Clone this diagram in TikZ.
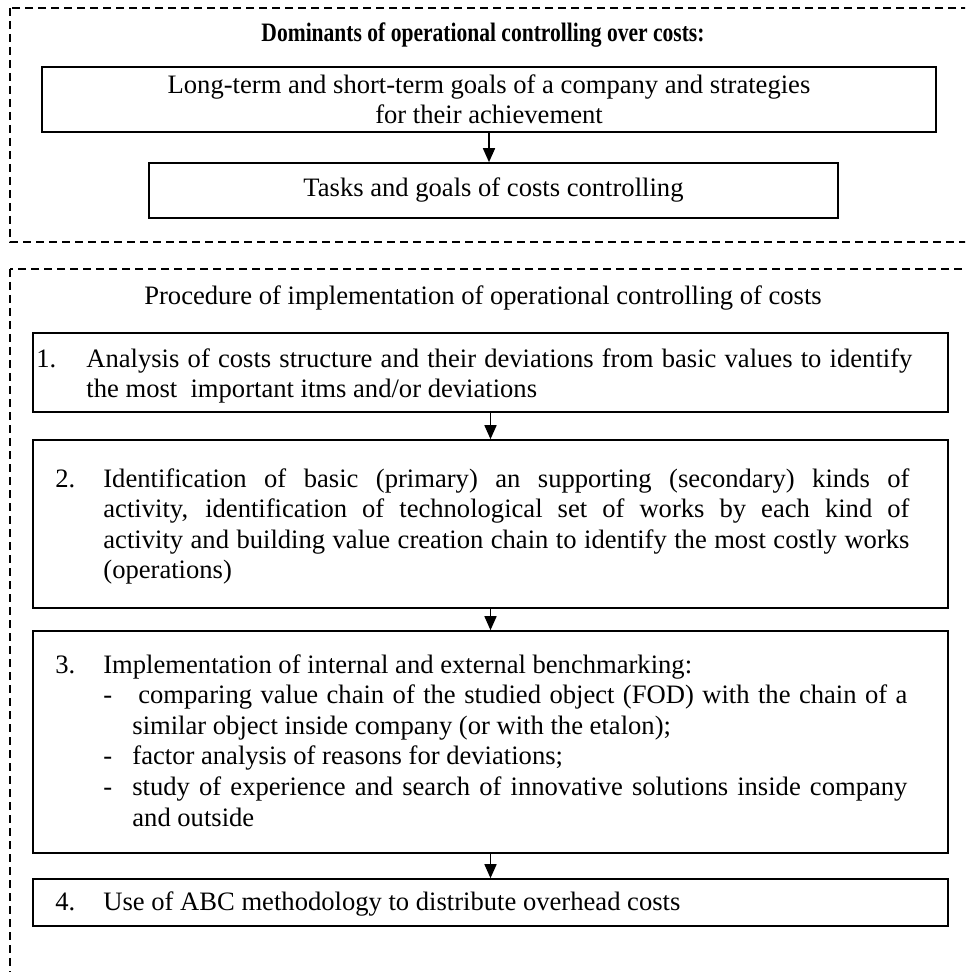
\documentclass[tikz,border=0pt]{standalone}
\usepackage{fontspec}
\setmainfont{Liberation Serif}
\usetikzlibrary{arrows.meta}
\tikzset{
  box/.style={draw, rectangle, line width=0.8pt, inner sep=0pt},
  txt/.style={inner sep=0pt, anchor=base west, align=justify},
  ctxt/.style={inner sep=0pt, anchor=base, align=center},
  arr/.style={-{Triangle[length=7pt,width=6pt]}, line width=0.8pt},
  frame/.style={dash pattern=on 4pt off 2.5pt, line width=0.6pt}
}
\newcommand{\numlab}[2]{\leavevmode\llap{\makebox[#1][l]{#2}}}
\begin{document}
\begin{tikzpicture}[x=0.5pt, y=-0.5pt, font=\fontsize{13.3}{15.3}\selectfont]
\useasboundingbox (0,0) rectangle (965,972);
\clip (0,0) rectangle (965,972);
\fill[white] (0,0) rectangle (965,972);

% dashed frames
\draw[frame] (10,8) rectangle (990,242);
\draw[frame] (10,269) rectangle (990,1000);

% top part
\node[ctxt] (t0) at (483,42) {\scalebox{0.81}[1]{\bfseries Dominants of operational controlling over costs:}};
\node[box, minimum width=447pt, minimum height=32.5pt] (bA) at (489,99.5) {};
\node[ctxt] (tA) at (489,124) {Long-term and short-term goals of a company and strategies\\ for their achievement};
\node[box, minimum width=344.5pt, minimum height=27.5pt] (bB) at (493.5,190.5) {};
\node[ctxt] (tB) at (493.5,197) {Tasks and goals of costs controlling};
\draw[arr] (bA.south) -- (bA.south |- bB.north);

% procedure
\node[ctxt] (tP) at (483,305) {Procedure of implementation of operational controlling of costs};

\node[box, minimum width=457.5pt, minimum height=39.5pt] (b1) at (490.5,372.5) {};
\node[box, minimum width=457.5pt, minimum height=84pt] (b2) at (490.5,524) {};
\node[box, minimum width=457.5pt, minimum height=111pt] (b3) at (490.5,742) {};
\node[box, minimum width=457.5pt, minimum height=23.5pt] (b4) at (490.5,902.5) {};

\node[txt, text width=413pt] (t1) at (86,367) {\numlab{25pt}{1.}Analysis of costs structure and their deviations from basic values to identify\linebreak the most~\ important itms and/or deviations};

\node[txt, text width=403pt] (t2) at (103,487) {\numlab{24pt}{2.}Identification of basic (primary) an supporting (secondary) kinds of\linebreak activity, identification of technological set of works by each kind of\linebreak activity and building value creation chain to identify the most costly works\linebreak (operations)};

\node[txt, text width=402pt] (t3) at (103,673) {\numlab{24pt}{3.}Implementation of internal and external benchmarking:\par
\leftskip=14.5pt
\numlab{14.5pt}{-}\hspace*{3pt}comparing value chain of the studied object (FOD) with the chain of a\linebreak similar object inside company (or with the etalon);\par
\numlab{14.5pt}{-}factor analysis of reasons for deviations;\par
\numlab{14.5pt}{-}study of experience and search of innovative solutions inside company\linebreak and outside\par};

\node[txt, text width=402pt] (t4) at (103,910) {\numlab{24pt}{4.}Use of ABC methodology to distribute overhead costs};

\draw[arr] (b1.south) -- (b2.north);
\draw[arr] (b2.south) -- (b3.north);
\draw[arr] (b3.south) -- (b4.north);
\end{tikzpicture}
\end{document}
